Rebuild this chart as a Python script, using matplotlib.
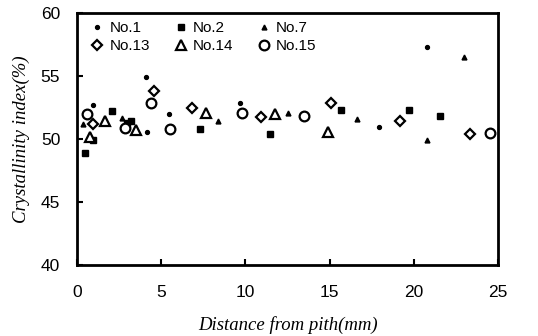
import matplotlib
matplotlib.use("Agg")
import matplotlib.pyplot as plt

# Data (distance from pith mm, crystallinity index %)
no1_x = [0.95, 4.1, 4.16, 5.46, 9.7, 17.9, 20.8]
no1_y = [52.7, 54.9, 50.6, 52.0, 52.9, 51.0, 57.3]

no2_x = [0.47, 0.95, 2.08, 3.0, 3.2, 7.3, 11.46, 15.7, 19.7, 21.56]
no2_y = [48.9, 49.9, 52.2, 51.3, 51.4, 50.8, 50.4, 52.3, 52.3, 51.8]

no7_x = [0.35, 2.7, 8.4, 12.5, 16.6, 20.8, 23.0]
no7_y = [51.2, 51.7, 51.4, 52.1, 51.6, 49.9, 56.5]

no13_x = [0.95, 4.6, 6.8, 10.9, 15.1, 19.2, 23.3]
no13_y = [51.2, 53.8, 52.5, 51.75, 52.9, 51.4, 50.4]

no14_x = [0.77, 1.66, 3.5, 7.66, 11.76, 14.9]
no14_y = [50.2, 51.4, 50.7, 52.1, 52.0, 50.6]

no15_x = [0.6, 2.85, 4.4, 5.5, 9.8, 13.5, 24.5]
no15_y = [52.0, 50.9, 52.9, 50.8, 52.06, 51.8, 50.5]

x_ticks = [0, 5, 10, 15, 20, 25]
y_ticks = [40, 45, 50, 55, 60]

fig = plt.figure(figsize=(5.38, 3.36), dpi=100)
ax = fig.add_axes([0.143, 0.211, 0.783, 0.75])

h1, = ax.plot(no1_x, no1_y, ls='none', marker='o', ms=2.8, color='black', label='No.1')
h2, = ax.plot(no2_x, no2_y, ls='none', marker='s', ms=4.5, color='black', label='No.2')
h7, = ax.plot(no7_x, no7_y, ls='none', marker='^', ms=3.5, color='black', label='No.7')
h13, = ax.plot(no13_x, no13_y, ls='none', marker='D', ms=5, mfc='white', mec='black', mew=1.6, label='No.13')
h14, = ax.plot(no14_x, no14_y, ls='none', marker='^', ms=6.5, mfc='white', mec='black', mew=1.6, label='No.14')
h15, = ax.plot(no15_x, no15_y, ls='none', marker='o', ms=7, mfc='white', mec='black', mew=1.6, label='No.15')

ax.set_xlim(0, 25)
ax.set_ylim(40, 60)
ax.set_xticks(x_ticks)
ax.set_yticks(y_ticks)
ax.tick_params(direction='in', length=4, width=1.5, labelsize=12.5)
ax.tick_params(axis='x', pad=14)
ax.tick_params(axis='y', pad=12)
for t in ax.get_xticklabels() + ax.get_yticklabels():
    t.set_fontfamily('Liberation Sans')
for s in ax.spines.values():
    s.set_linewidth(2)

ax.set_xlabel('Distance from pith(mm)', fontfamily='Liberation Serif', fontstyle='italic', fontsize=13.5, labelpad=12)
ax.set_ylabel('Crystallinity index(%)', fontfamily='Liberation Serif', fontstyle='italic', fontsize=13.5, labelpad=8)

handles = [h1, h13, h2, h14, h7, h15]
leg = ax.legend(handles, [h.get_label() for h in handles], ncol=3, frameon=False,
                loc='upper left', bbox_to_anchor=(0.005, 1.01),
                prop={'family': 'Liberation Sans', 'size': 11}, handlelength=1.0,
                handletextpad=0.3, columnspacing=1.5, labelspacing=0.25, borderaxespad=0.3)

fig.savefig('out.png', dpi=100)
